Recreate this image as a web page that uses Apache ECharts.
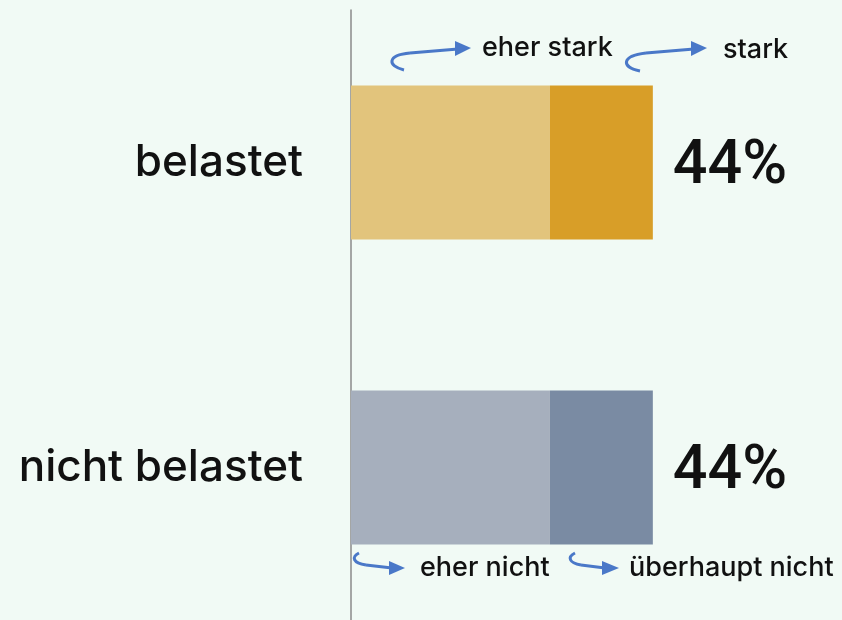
<!DOCTYPE html>
<html>
<head>
<meta charset="utf-8">
<script src="https://cdn.jsdelivr.net/npm/echarts@6/dist/echarts.min.js"></script>
<style>
  html, body { margin: 0; padding: 0; background: #f1faf5; }
  #main { width: 842px; height: 620px; }
</style>
</head>
<body>
<div id="main"></div>
<script>
// data
const categories = ['belastet', 'nicht belastet'];
const eherStark = [29, null];
const stark = [15, null];
const eherNicht = [null, 29];
const ueberhauptNicht = [null, 15];
const segmentNames = ['eher stark', 'stark', 'eher nicht', 'überhaupt nicht'];

const colors = {
    eherStark: '#e2c47c',
    stark: '#d89e28',
    eherNicht: '#a6afbd',
    ueberhauptNicht: '#7a8ba3',
    arrow: '#4a78c8'
};

const FONT = 'Inter, Roboto, sans-serif';
const NUM_FONT = 'Roboto, Inter, sans-serif';

// totals per category for the right-hand label
const totals = categories.map((c, i) =>
    (eherStark[i] || 0) + (stark[i] || 0) + (eherNicht[i] || 0) + (ueberhauptNicht[i] || 0)
);

const myChart = echarts.init(document.getElementById('main'));

function bar(name, values, color, withTotal) {
    return {
        name: name,
        type: 'bar',
        stack: 'total',
        barWidth: 154,
        data: values,
        itemStyle: { color: color },
        label: withTotal ? {
            show: true,
            position: 'right',
            distance: 20,
            offset: [0, 5],
            fontFamily: NUM_FONT,
            fontSize: 61,
            fontWeight: 500,
            color: '#111',
            formatter: p => totals[p.dataIndex] + '%'
        } : { show: false },
        emphasis: { disabled: true }
    };
}

// curved arrow: a curl (bezier), a straight shaft and a triangular head
function arrow(curl, shaft, head) {
    const stroke = { fill: null, stroke: colors.arrow, lineWidth: 3 };
    return [
        {
            type: 'bezierCurve',
            shape: {
                x1: curl[0], y1: curl[1],
                cpx1: curl[2], cpy1: curl[3],
                cpx2: curl[4], cpy2: curl[5],
                x2: curl[6], y2: curl[7]
            },
            style: stroke
        },
        {
            type: 'line',
            shape: { x1: curl[6], y1: curl[7], x2: shaft[0], y2: shaft[1] },
            style: stroke
        },
        {
            type: 'polygon',
            shape: { points: head },
            style: { fill: colors.arrow }
        }
    ];
}

function caption(text, x, y) {
    return {
        type: 'text',
        x: x,
        y: y,
        style: {
            text: text,
            fontFamily: FONT,
            fontSize: 27,
            fontWeight: 500,
            fill: '#111',
            verticalAlign: 'middle'
        }
    };
}

const graphic = [].concat(
    arrow([404, 70, 387, 66, 387, 55, 410, 53], [458, 49], [[455, 41], [471, 48], [455, 56]]),
    arrow([640, 71, 621, 67, 621, 56, 646, 53], [694, 49], [[691, 41], [707, 48], [691, 56]]),
    arrow([359, 553, 351, 557, 353, 563, 366, 565], [392, 568], [[389, 561], [405, 568], [389, 575]]),
    arrow([575, 553, 567, 557, 569, 563, 581, 565], [605, 568], [[602, 561], [619, 568], [602, 575]]),
    [
        caption(segmentNames[0], 482, 48),
        caption(segmentNames[1], 723, 50),
        caption(segmentNames[2], 420, 568),
        caption(segmentNames[3], 629, 568)
    ]
);

const option = {
    backgroundColor: '#f1faf5',
    animation: false,
    grid: { left: 351, width: 343, top: 10, bottom: 0 },
    xAxis: {
        type: 'value',
        min: 0,
        max: 50,
        show: false
    },
    yAxis: {
        type: 'category',
        data: categories,
        inverse: true,
        axisLine: { show: true, lineStyle: { color: '#8a8a8a', width: 1.5 } },
        axisTick: { show: false },
        axisLabel: {
            margin: 48,
            padding: [16, 0, 0, 0],
            fontFamily: FONT,
            fontSize: 44,
            fontWeight: 500,
            color: '#111'
        }
    },
    series: [
        bar(segmentNames[0], eherStark, colors.eherStark, false),
        bar(segmentNames[1], stark, colors.stark, true),
        bar(segmentNames[2], eherNicht, colors.eherNicht, false),
        bar(segmentNames[3], ueberhauptNicht, colors.ueberhauptNicht, true)
    ],
    graphic: graphic
};

myChart.setOption(option);
</script>
</body>
</html>
